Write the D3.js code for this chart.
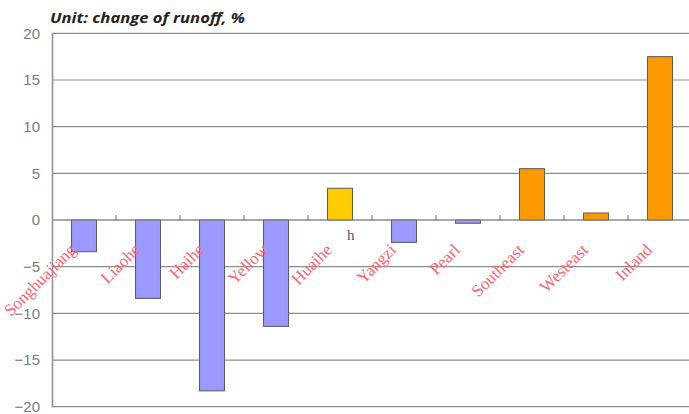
<!DOCTYPE html>
<html>
<head>
<meta charset="utf-8">
<script src="https://cdn.jsdelivr.net/npm/d3@7/dist/d3.min.js"></script>
<style>
  html, body { margin: 0; padding: 0; background: #fff; }
  svg { display: block; }
</style>
</head>
<body>
<svg id="chart" width="689" height="414"></svg>
<script>
// Runoff change by river basin (%)
const basins = ["Songhuajiang", "Liaohe", "Haihe", "Yellow", "Huaihe", "Yangzi", "Pearl", "Southeast", "Westeast", "Inland"];
const runoffChange = [-3.4, -8.4, -18.3, -11.4, 3.4, -2.4, -0.35, 5.5, 0.75, 17.5];
const basinGroup = ["north", "north", "north", "north", "huai", "south", "south", "east", "east", "east"];
const yTicks = [20, 15, 10, 5, 0, -5, -10, -15, -20];
const titleText = "Unit: change of runoff, %";

const groupColor = { north: "#9999FF", south: "#9999FF", huai: "#FFCC00", east: "#FF9900" };

const svg = d3.select("#chart");
const plot = { left: 52, right: 692, top: 33.3, bottom: 406.7 };

const y = d3.scaleLinear().domain([-20, 20]).range([plot.bottom, plot.top]);
const x = d3.scaleBand().domain(basins).range([plot.left, plot.right])
  .paddingInner(0.61).paddingOuter(0.305);
const step = x.step();

// horizontal gridlines
svg.append("g").selectAll("line").data(yTicks).join("line")
  .attr("x1", plot.left).attr("x2", plot.right)
  .attr("y1", d => y(d)).attr("y2", d => y(d))
  .attr("stroke", "#8c8c8c").attr("stroke-width", 1.2);

// value axis
const yAxis = d3.axisLeft(y).tickValues(yTicks).tickSize(0).tickPadding(12)
  .tickFormat(d => d < 0 ? "\u2212" + Math.abs(d) : String(d));
const ya = svg.append("g").attr("transform", `translate(${plot.left},0)`).call(yAxis);
ya.select(".domain").attr("stroke", "#8c8c8c").attr("stroke-width", 1.5);
ya.selectAll("text").attr("fill", "#7a7a7a")
  .style("font-family", "'Liberation Sans', Arial, sans-serif").style("font-size", "15px");

// bars
svg.append("g").selectAll("rect").data(basins).join("rect")
  .attr("x", d => x(d))
  .attr("width", x.bandwidth())
  .attr("y", (d, i) => y(Math.max(0, runoffChange[i])))
  .attr("height", (d, i) => Math.abs(y(runoffChange[i]) - y(0)))
  .attr("fill", (d, i) => groupColor[basinGroup[i]])
  .attr("stroke", "#5a5a5a").attr("stroke-width", 1);

// category axis along zero, with ticks between categories
svg.append("line")
  .attr("x1", plot.left).attr("x2", plot.right)
  .attr("y1", y(0)).attr("y2", y(0))
  .attr("stroke", "#8c8c8c").attr("stroke-width", 1.2);
svg.append("g").selectAll("line").data(basins.slice(0, -1)).join("line")
  .attr("x1", d => x(d) + x.bandwidth() / 2 + step / 2)
  .attr("x2", d => x(d) + x.bandwidth() / 2 + step / 2)
  .attr("y1", y(0) - 5).attr("y2", y(0))
  .attr("stroke", "#666").attr("stroke-width", 1);

// rotated category labels
svg.append("g").selectAll("text").data(basins).join("text")
  .attr("transform", d => `translate(${x(d) + x.bandwidth() / 2 - 7},${y(0) + 31}) rotate(-45)`)
  .attr("text-anchor", "end")
  .attr("fill", "#FF6373")
  .style("font-family", "'Liberation Serif', 'Times New Roman', serif")
  .style("font-size", "17px")
  .text(d => d);

// stray axis mark
svg.append("text")
  .attr("x", 347).attr("y", 240)
  .attr("fill", "#555")
  .style("font-family", "'Liberation Serif', serif")
  .style("font-size", "15px")
  .text("h");

// unit title
svg.append("text")
  .attr("x", 50).attr("y", 23)
  .attr("fill", "#222")
  .attr("textLength", 195).attr("lengthAdjust", "spacingAndGlyphs")
  .style("font-family", "'Open Sans', Lato, sans-serif")
  .style("font-size", "15px").style("font-weight", "bold").style("font-style", "italic")
  .text(titleText);
</script>
</body>
</html>
